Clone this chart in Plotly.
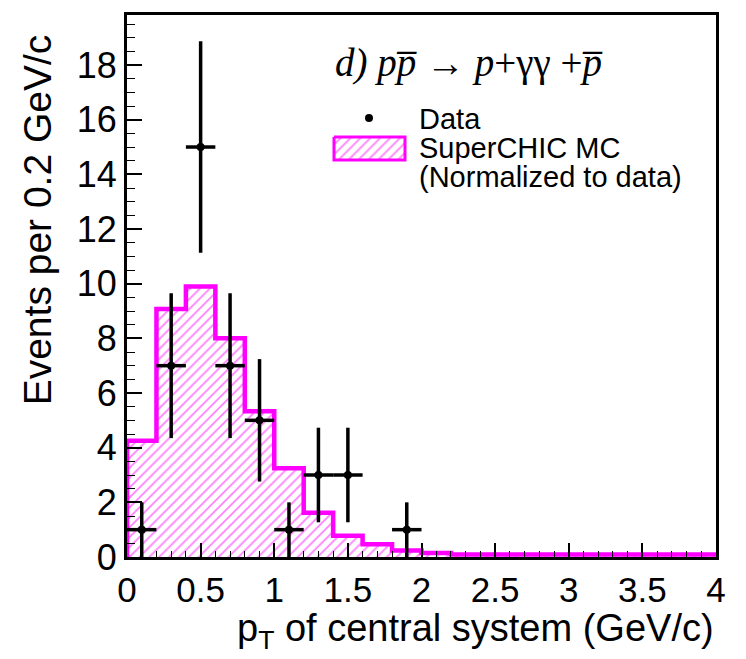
import plotly.graph_objects as go

# ---------------- data ----------------
bin_width = 0.2
n_bins = 20
mc_values = [4.25, 9.07, 9.90, 8.00, 5.33, 3.25, 1.62, 0.78, 0.47, 0.24,
             0.15, 0.09, 0.09, 0.09, 0.09, 0.09, 0.09, 0.09, 0.09, 0.09]
data_x = [0.1, 0.3, 0.5, 0.7, 0.9, 1.1, 1.3, 1.5, 1.9]
data_y = [1, 7, 15, 7, 5, 1, 3, 3, 1]
data_err = [1.00, 2.65, 3.87, 2.65, 2.24, 1.00, 1.73, 1.73, 1.00]
x_tick_vals = [0, 0.5, 1, 1.5, 2, 2.5, 3, 3.5, 4]
x_tick_text = ["0", "0.5", "1", "1.5", "2", "2.5", "3", "3.5", "4"]
y_tick_vals = [0, 2, 4, 6, 8, 10, 12, 14, 16, 18]

MAG = "#ff00ff"
FONT = "Liberation Sans"

edges = [round(i * bin_width, 2) for i in range(n_bins + 1)]
step_x = [0.0] + edges
step_y = [0.0] + mc_values + [mc_values[-1]]

PAT = dict(shape="/", fgcolor=MAG, bgcolor="white", size=7, solidity=0.25)

fig = go.Figure()

# MC histogram (hatched)
fig.add_trace(go.Scatter(
    x=step_x, y=step_y, mode="lines", line=dict(color=MAG, width=4.5, shape="hv"),
    fill="tozeroy", fillcolor="rgba(0,0,0,0)", fillpattern=PAT,
    showlegend=False, hoverinfo="skip"))

# data points
fig.add_trace(go.Scatter(
    x=data_x, y=data_y, mode="markers",
    marker=dict(color="black", size=8),
    error_y=dict(type="data", array=data_err, color="black", thickness=3.5, width=0),
    error_x=dict(type="constant", value=bin_width / 2, color="black", thickness=3.5, width=0),
    showlegend=False))

# ---- custom legend on pixel-coordinate overlay axes ----
fig.add_trace(go.Scatter(
    x=[334, 405, 405, 334, 334], y=[137, 137, 160, 160, 137], mode="lines",
    line=dict(color=MAG, width=3), fill="toself", fillcolor="rgba(0,0,0,0)",
    fillpattern=PAT, xaxis="x2", yaxis="y2", showlegend=False, hoverinfo="skip"))
fig.add_trace(go.Scatter(
    x=[369], y=[118], mode="markers", marker=dict(color="black", size=8),
    xaxis="x2", yaxis="y2", showlegend=False, hoverinfo="skip"))

annotations = []
for text, xx, yy in [("Data", 417, 119), ("SuperCHIC MC", 417, 148),
                     ("(Normalized to data)", 417, 177)]:
    annotations.append(dict(text=text, x=xx, y=yy, xref="x2", yref="y2",
                            xanchor="left", yanchor="middle", showarrow=False,
                            font=dict(family=FONT, size=29, color="black")))

annotations.append(dict(
    text="<i>d) p</i><i>p\u0305</i> \u2192 <i>p</i>+\u03b3\u03b3 +<i>p\u0305</i>",
    x=333, y=63, xref="x2", yref="y2", xanchor="left", yanchor="middle",
    showarrow=False, font=dict(family="Liberation Serif", size=39, color="black")))

# axis titles (paper coordinates)
annotations.append(dict(
    text="Events per 0.2 GeV/c", textangle=-90, x=-0.152, y=0.622, xref="paper", yref="paper",
    xanchor="center", yanchor="middle", showarrow=False,
    font=dict(family=FONT, size=39, color="black")))
annotations.append(dict(
    text="p<sub>T</sub> of central system (GeV/c)", x=1.0, y=-0.137, xref="paper", yref="paper",
    xanchor="right", yanchor="middle", showarrow=False,
    font=dict(family=FONT, size=38, color="black")))

fig.update_layout(
    width=746, height=659,
    margin=dict(l=127, r=30, t=15, b=102),
    paper_bgcolor="white", plot_bgcolor="white",
    font=dict(family=FONT, color="black"),
    showlegend=False,
    annotations=annotations,
    xaxis=dict(
        range=[0, 4], tickvals=x_tick_vals, ticktext=x_tick_text,
        ticks="inside", ticklen=14, tickwidth=1.5, tickcolor="black",
        minor=dict(dtick=0.1, ticks="inside", ticklen=6, tickwidth=1.2, tickcolor="black", showgrid=False),
        showline=True, linecolor="black", linewidth=3, mirror=True,
        showgrid=False, zeroline=False,
        tickfont=dict(family=FONT, size=35, color="black")),
    yaxis=dict(
        range=[0, 19.83], tickvals=y_tick_vals,
        ticks="inside", ticklen=15, tickwidth=1.5, tickcolor="black",
        minor=dict(dtick=0.5, ticks="inside", ticklen=8, tickwidth=1.2, tickcolor="black", showgrid=False),
        showline=True, linecolor="black", linewidth=3, mirror=True,
        showgrid=False, zeroline=False,
        tickfont=dict(family=FONT, size=36, color="black")),
    xaxis2=dict(overlaying="x", range=[127, 716], visible=False, anchor="y2"),
    yaxis2=dict(overlaying="y", range=[557, 15], visible=False, anchor="x2"),
)

fig.write_html("out.html", config={"displayModeBar": False},
               post_script="document.body.style.margin='0';")
